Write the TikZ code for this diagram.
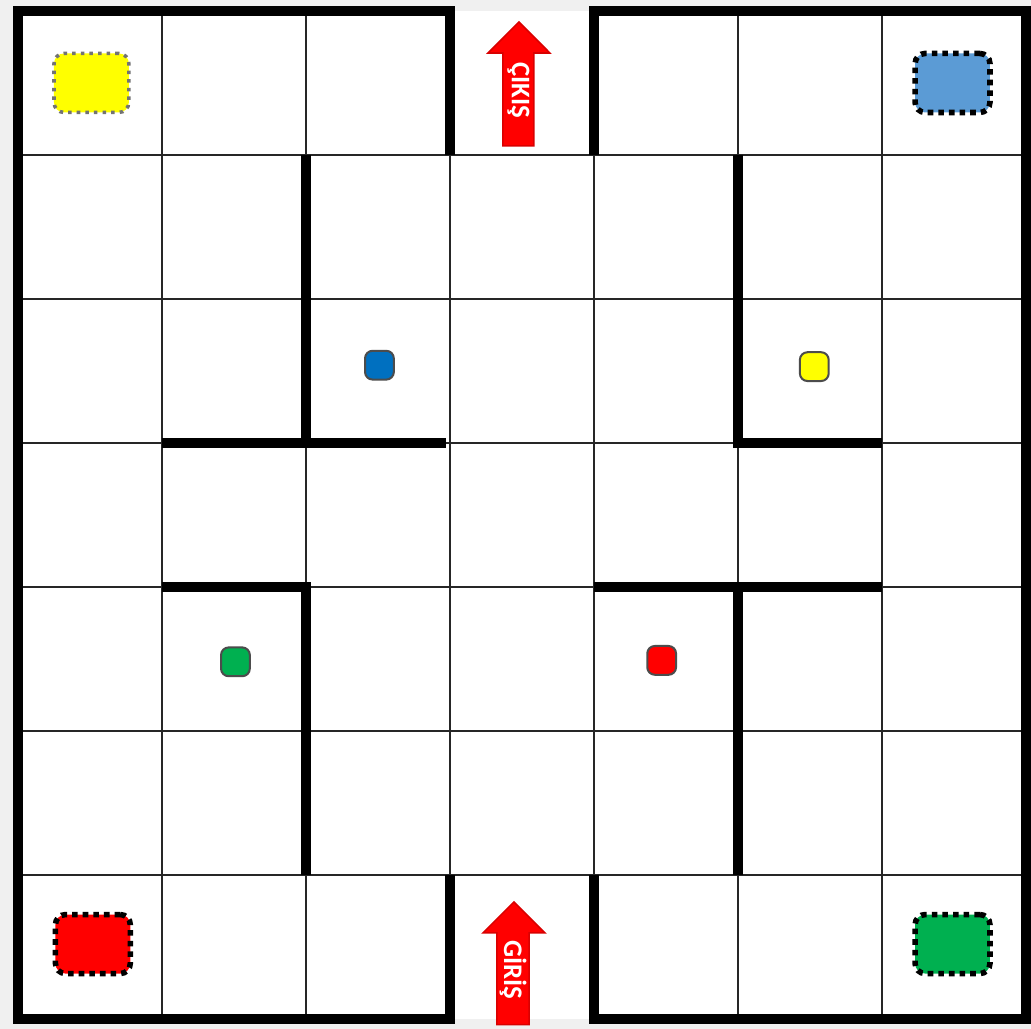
\documentclass[tikz,border=0pt]{standalone}
\usepackage{fontspec}
\usepackage{tikz}
\usetikzlibrary{positioning}
\newfontfamily\okfont{Carlito}
\definecolor{zemin}{RGB}{240,240,240}
\definecolor{mavi}{RGB}{91,155,213}
\definecolor{koyumavi}{RGB}{0,112,192}
\definecolor{yesil}{RGB}{0,176,80}
\definecolor{kirmizi}{RGB}{255,0,0}
\definecolor{sari}{RGB}{255,255,0}

\begin{document}
\begin{tikzpicture}[
    izgara/.style={line width=0.3pt, color=black!85},
    duvar/.style={line width=1.9pt, color=black, line join=miter},
    buyukkutu/.style={draw=black, densely dotted, line width=1.1pt, rounded corners=2pt,
                      minimum width=0.52cm, minimum height=0.41cm, inner sep=0pt},
    kucukkutu/.style={draw=black!70, line width=0.4pt, rounded corners=1.5pt,
                      minimum size=0.2cm, inner sep=0pt},
    ok/.style={fill=kirmizi, draw=kirmizi!85!black, line width=0.3pt},
    okyazi/.style={font=\okfont\bfseries\fontsize{5.3}{6}\selectfont, text=white, rotate=-90, inner sep=0pt}]
  % zemin
  \fill[zemin] (-0.125,-0.069) rectangle (7.035,7.076);
  \useasboundingbox (-0.125,-0.069) rectangle (7.035,7.076);
  \fill[white] (0,0) rectangle (7,7);
  % izgara
  \foreach \i in {1,...,6} {
    \draw[izgara] (\i,0) -- (\i,7);
    \draw[izgara] (0,\i) -- (7,\i);
  }
  % dis duvarlar
  \draw[duvar] (3,6) -- (3,7) -- (0,7) -- (0,0) -- (3,0) -- (3,1);
  \draw[duvar] (4,6) -- (4,7) -- (7,7) -- (7,0) -- (4,0) -- (4,1);
  % ic duvarlar
  \draw[duvar] (2,6) -- (2,4);
  \draw[duvar] (1,4) -- (2.97,4);
  \draw[duvar] (5,6) -- (5,4) -- (6,4);
  \draw[duvar] (1,3) -- (2,3) -- (2,1);
  \draw[duvar] (4,3) -- (6,3);
  \draw[duvar] (5,3) -- (5,1);
  % koselerdeki kutular
  \node[buyukkutu, fill=sari, draw=black!55, line width=0.7pt] (sk) at (0.51,6.5) {};
  \node[buyukkutu, fill=mavi] (mk) at (6.49,6.5) {};
  \node[buyukkutu, fill=kirmizi] (kk) at (0.52,0.52) {};
  \node[buyukkutu, fill=yesil] (yk) at (6.49,0.52) {};
  % kucuk kutular
  \node[kucukkutu, fill=koyumavi] (mkc) at (2.51,4.54) {};
  \node[kucukkutu, fill=sari] (skc) at (5.53,4.53) {};
  \node[kucukkutu, fill=yesil] (ykc) at (1.51,2.48) {};
  \node[kucukkutu, fill=kirmizi] (kkc) at (4.47,2.49) {};
  % cikis oku
  \draw[ok] (3.368,6.063) -- (3.368,6.708) -- (3.264,6.708) -- (3.479,6.924)
            -- (3.694,6.708) -- (3.583,6.708) -- (3.583,6.063) -- cycle;
  \node[okyazi] (cikis) at (3.476,6.45) {ÇIKIŞ};
  % giris oku
  \draw[ok] (3.326,-0.04) -- (3.326,0.597) -- (3.229,0.597) -- (3.444,0.8125)
            -- (3.66,0.597) -- (3.549,0.597) -- (3.549,-0.04) -- cycle;
  \node[okyazi] (giris) at (3.438,0.34) {GİRİŞ};
\end{tikzpicture}
\end{document}
